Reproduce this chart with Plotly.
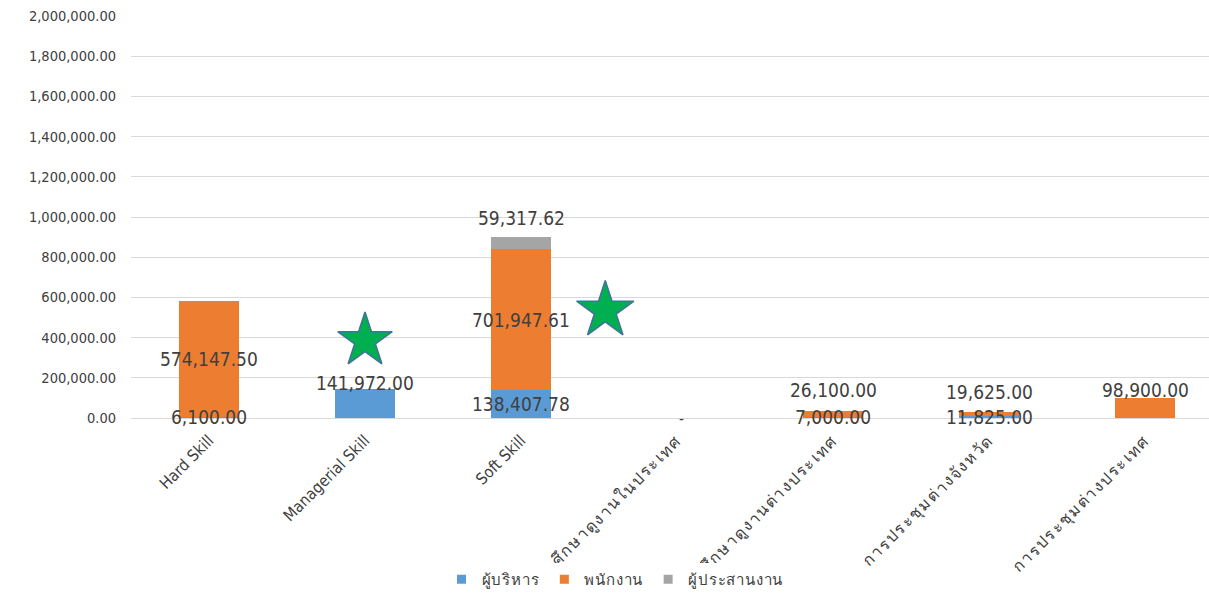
import plotly.graph_objects as go

# Training budget by course type and staff group
categories = [
    "Hard Skill",
    "Managerial Skill",
    "Soft Skill",
    "ศึกษาดูงานในประเทศ",
    "ศึกษาดูงานต่างประเทศ",
    "การประชุมต่างจังหวัด",
    "การประชุมต่างประเทศ",
]
series_names = ["ผู้บริหาร", "พนักงาน", "ผู้ประสานงาน"]
executives = [6100.00, 141972.00, 138407.78, 0, 7000.00, 11825.00, 0]
employees = [574147.50, 0, 701947.61, 0, 26100.00, 19625.00, 98900.00]
coordinators = [0, 0, 59317.62, 0, 0, 0, 0]
series_values = [executives, employees, coordinators]
colors = ["#5B9BD5", "#ED7D31", "#A5A5A5"]

y_ticks = [0, 200000, 400000, 600000, 800000, 1000000, 1200000,
           1400000, 1600000, 1800000, 2000000]

# Highlight markers (category position, value)
star_x = [1.0, 2.54]
star_y = [385000, 535000]

FONT = "'DejaVu Sans Condensed', Tahoma, 'DejaVu Sans', sans-serif"
LABEL_COLOR = "#404040"


def is_thai(s):
    return any("\u0e00" <= ch <= "\u0e7f" for ch in s)


# Thai glyphs in the fallback face run narrow, so widen them a little
tick_text = [
    f'<span style="font-size:16px;letter-spacing:1.6px">{c}</span>' if is_thai(c) else c
    for c in categories
]
legend_text = [
    f'<span style="letter-spacing:0.8px">{n}</span>' for n in series_names
]

fig = go.Figure()
for name, vals, col in zip(series_names, series_values, colors):
    fig.add_trace(go.Bar(
        x=categories, y=vals, name=name, legendgroup=name, showlegend=False,
        marker=dict(color=col, line=dict(width=0)), hoverinfo="skip",
    ))
# Legend entries drawn as small square swatches
for name, label, col in zip(series_names, legend_text, colors):
    fig.add_trace(go.Scatter(
        x=[None], y=[None], mode="markers", name=label, legendgroup=name,
        marker=dict(symbol="square", size=9, color=col),
    ))

# Data labels: (series index, category index, placement, pixel shift)
label_spec = [
    (0, 0, "center", 0), (1, 0, "center", 0),
    (0, 1, "top", 6),
    (0, 2, "center", 0), (1, 2, "center", 0), (2, 2, "top", 19),
    (0, 4, "center", 0), (1, 4, "top", 21),
    (0, 5, "center", 0), (1, 5, "top", 20),
    (1, 6, "top", 8),
]
annotations = []
for s, c, where, shift in label_spec:
    base = sum(series_values[k][c] for k in range(s))
    v = series_values[s][c]
    y = base + v / 2 if where == "center" else base + v
    annotations.append(dict(
        x=categories[c], y=y, xref="x", yref="y", text=f"{v:,.2f}",
        showarrow=False, yshift=shift, font=dict(family=FONT, size=19, color=LABEL_COLOR),
    ))
# zero-value label
annotations.append(dict(
    x=categories[3], y=0, xref="x", yref="y", text="-", xshift=4, yshift=-1,
    showarrow=False, font=dict(family=FONT, size=15, color=LABEL_COLOR),
))

fig.add_trace(go.Scatter(
    x=star_x, y=star_y, mode="markers", xaxis="x2", yaxis="y",
    marker=dict(symbol="star", size=[41, 43], color="#00B050", opacity=1,
                line=dict(color="#41719C", width=1.5)),
    showlegend=False, hoverinfo="skip",
))

fig.update_layout(
    width=1209, height=596,
    barmode="stack", bargap=0.61,
    paper_bgcolor="white", plot_bgcolor="white",
    margin=dict(l=131, r=0, t=16, b=177),
    font=dict(family=FONT, size=14, color=LABEL_COLOR),
    xaxis=dict(type="category", range=[-0.5, 6.41], tickangle=-45,
               tickmode="array", tickvals=categories, ticktext=tick_text,
               showgrid=False, showline=False, ticks="", zeroline=False,
               ticklabelstandoff=9,
               tickfont=dict(size=16, color=LABEL_COLOR)),
    xaxis2=dict(overlaying="x", range=[-0.5, 6.41], visible=False),
    yaxis=dict(range=[0, 2000000], tickvals=y_ticks, tickformat=",.2f",
               showgrid=True, gridcolor="#D9D9D9", gridwidth=1,
               zeroline=True, zerolinecolor="#D9D9D9", zerolinewidth=1,
               ticks="", ticklabelstandoff=14,
               tickfont=dict(size=14.5, color=LABEL_COLOR)),
    legend=dict(orientation="h", x=0.449, xanchor="center", y=-0.402, yanchor="middle",
                font=dict(size=15, color=LABEL_COLOR), itemwidth=30,
                traceorder="normal"),
    annotations=annotations,
)

fig.write_html("out.html")
